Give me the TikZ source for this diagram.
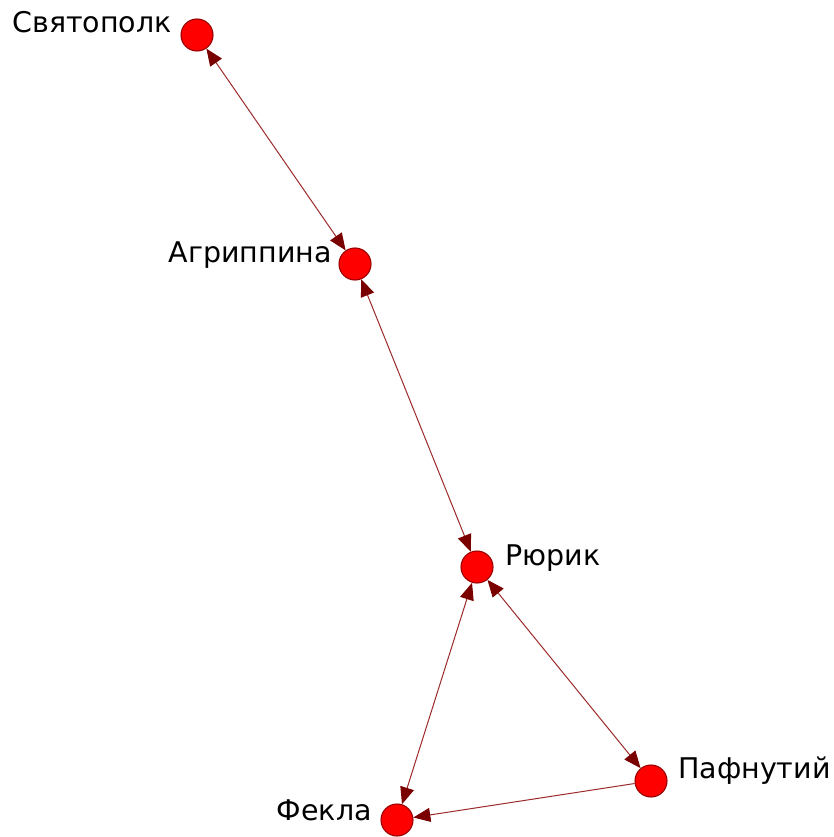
\documentclass[tikz,border=0pt]{standalone}
\usepackage{fontspec}
\setmainfont{DejaVu Sans}
\usetikzlibrary{arrows.meta}
\definecolor{vfill}{HTML}{FF0000}
\definecolor{vborder}{HTML}{9A0000}
\definecolor{edgecol}{HTML}{9C2A2A}
\definecolor{tipcol}{HTML}{7A0000}
\begin{document}
\begin{tikzpicture}[x=1pt,y=-1pt,
  vertex/.style={circle,fill=vfill,draw=vborder,line width=1.1pt,minimum size=32pt,inner sep=0pt},
  lbl/.style={inner sep=0pt,font=\fontsize{28.5}{28.5}\selectfont},
  edge/.style={draw=edgecol,line width=1pt},
  tip/.style={-{Triangle[length=17pt,width=14pt,color=tipcol]}},
  bitip/.style={{Triangle[length=17pt,width=14pt,color=tipcol]}-{Triangle[length=17pt,width=14pt,color=tipcol]}}]
\useasboundingbox (0,0) rectangle (833,837);
\node[vertex] (sv) at (197,35) {};
\node[vertex] (ag) at (355,264) {};
\node[vertex] (ru) at (477,567) {};
\node[vertex] (fe) at (397,820) {};
\node[vertex] (pa) at (651,781) {};
\node[lbl,anchor=base east] (lsv) at (172,33) {Святополк};
\node[lbl,anchor=base east] (lag) at (332,262) {Агриппина};
\node[lbl,anchor=base west] (lru) at (505,565) {Рюрик};
\node[lbl,anchor=base east] (lfe) at (372,820) {Фекла};
\node[lbl,anchor=base west] (lpa) at (678,778) {Пафнутий};
\draw[edge,bitip] (sv) -- (ag);
\draw[edge,bitip] (ag) -- (ru);
\draw[edge,bitip] (ru) -- (fe);
\draw[edge,bitip] (ru) -- (pa);
\draw[edge,tip] (pa) -- (fe);
\end{tikzpicture}
\end{document}
